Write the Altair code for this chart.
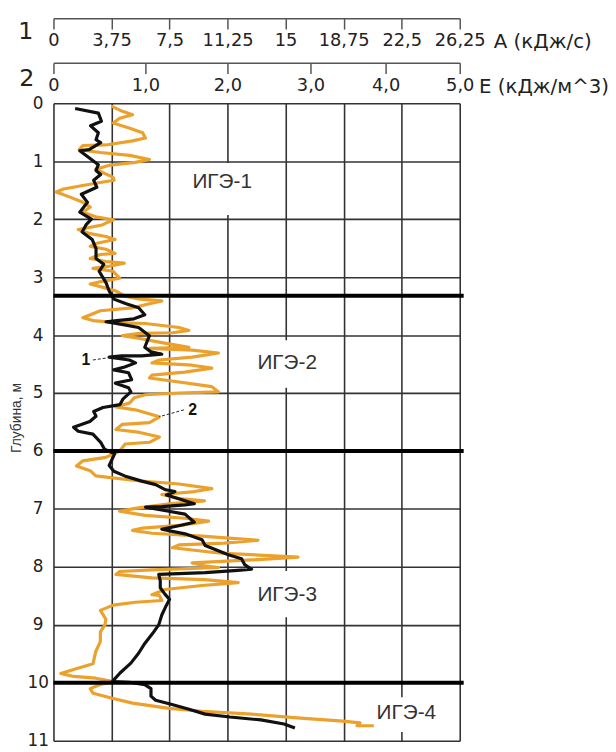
import altair as alt
import pandas as pd

# ---------------- data ----------------
# curve 1 (black): A, kJ/s vs depth, m
black_depth = [0.09, 0.17, 0.31, 0.39, 0.51, 0.63, 0.68, 0.80, 0.82, 0.94,
               1.06, 1.16, 1.23, 1.33, 1.45, 1.57, 1.71, 1.88, 2.00, 2.10,
               2.22, 2.35, 2.51, 2.68, 2.78, 2.90, 3.10, 3.24, 3.38, 3.46,
               3.53, 3.65, 3.72, 3.75, 3.77, 3.82, 3.87, 4.01, 4.21, 4.29,
               4.33, 4.36, 4.36, 4.38, 4.43, 4.48, 4.55, 4.60, 4.65, 4.77,
               4.83, 4.91, 4.98, 5.10, 5.20, 5.25, 5.32, 5.40, 5.49, 5.59,
               5.66, 5.71, 5.85, 5.97, 6.05, 6.25, 6.35, 6.43, 6.52, 6.58,
               6.67, 6.70, 6.76, 6.84, 6.91, 6.93, 6.96, 6.97, 7.04, 7.09,
               7.23, 7.29, 7.35, 7.43, 7.53, 7.63, 7.72, 7.79, 7.86, 7.96,
               8.04, 8.06, 8.10, 8.13, 8.24, 8.36, 8.47, 8.56, 8.66, 8.83,
               9.00, 9.15, 9.32, 9.49, 9.66, 9.83, 9.98, 9.99, 10.03, 10.10,
               10.23, 10.30, 10.37, 10.45, 10.54, 10.59, 10.64, 10.71, 10.78]
black_A = [1.4, 2.9, 3.1, 2.4, 2.9, 2.75, 3.05, 2.3, 1.7, 2.3,
           2.9, 2.75, 3.05, 2.6, 2.8, 1.8, 2.2, 1.7, 2.45, 2.1,
           1.85, 2.5, 2.75, 2.75, 3.25, 2.95, 3.4, 3.6, 3.9, 4.7,
           5.5, 5.9, 5.2, 4.1, 3.4, 4.5, 5.5, 6.2, 5.9, 6.3,
           7.0, 5.7, 4.4, 3.6, 4.9, 5.3, 4.6, 3.9, 4.85, 5.05,
           4.0, 4.85, 5.0, 4.5, 4.3, 3.2, 2.6, 2.75, 2.35, 1.3,
           1.6, 2.55, 3.05, 3.3, 3.95, 3.6, 3.9, 4.6, 5.7, 6.6,
           7.25, 7.85, 7.3, 8.3, 9.1, 8.5, 7.0, 5.95, 7.45, 8.5,
           9.1, 8.1, 7.0, 8.5, 9.6, 9.8, 10.65, 11.3, 12.15, 12.35,
           12.8, 11.9, 9.8, 6.8, 6.9, 6.9, 7.2, 7.5, 7.3, 7.0,
           6.8, 6.4, 5.9, 5.5, 5.0, 4.3, 3.8, 4.9, 5.9, 6.3,
           6.3, 6.6, 7.6, 8.7, 9.8, 11.4, 13.4, 14.9, 15.6]

# curve 2 (orange): E, kJ/m^3 vs depth, m
orange_depth = [0.05, 0.14, 0.20, 0.26, 0.34, 0.43, 0.51, 0.60, 0.65, 0.72,
                0.73, 0.80, 0.85, 0.90, 0.97, 1.02, 1.07, 1.14, 1.28, 1.33,
                1.36, 1.42, 1.48, 1.53, 1.62, 1.71, 1.79, 1.88, 1.96, 2.01,
                2.10, 2.18, 2.25, 2.30, 2.35, 2.42, 2.47, 2.52, 2.59, 2.61,
                2.68, 2.73, 2.76, 2.81, 2.85, 2.90, 3.02, 3.07, 3.12, 3.19,
                3.24, 3.33, 3.38, 3.41, 3.46, 3.53, 3.58, 3.70, 3.75, 3.79,
                3.80, 3.87, 3.92, 3.96, 3.97, 4.01, 4.06, 4.13, 4.21, 4.23,
                4.26, 4.31, 4.38, 4.43, 4.48, 4.52, 4.57, 4.64, 4.69, 4.74,
                4.81, 4.89, 4.98, 5.00, 5.03, 5.08, 5.17, 5.24, 5.29, 5.41,
                5.51, 5.54, 5.63, 5.68, 5.76, 5.85, 5.88, 6.00, 6.11, 6.17,
                6.26, 6.34, 6.43, 6.51, 6.57, 6.65, 6.70, 6.75, 6.82, 6.86,
                6.91, 6.99, 7.04, 7.11, 7.16, 7.21, 7.28, 7.33, 7.37, 7.42,
                7.47, 7.54, 7.59, 7.62, 7.67, 7.76, 7.83, 7.88, 7.93, 7.98,
                8.01, 8.05, 8.08, 8.13, 8.19, 8.22, 8.27, 8.32, 8.39, 8.48,
                8.49, 8.58, 8.61, 8.66, 8.75, 8.90, 9.00, 9.12, 9.29, 9.46,
                9.67, 9.77, 9.84, 9.89, 9.92, 9.98, 10.03, 10.10, 10.18, 10.27,
                10.35, 10.44, 10.49, 10.54, 10.61, 10.66, 10.69, 10.74, 10.74]
orange_E = [0.63, 0.75, 0.86, 0.72, 0.65, 0.83, 0.97, 1.00, 0.86, 0.57,
            0.32, 0.28, 0.51, 0.83, 1.05, 0.89, 0.61, 0.46, 0.65, 0.66,
            0.54, 0.32, 0.11, 0.03, 0.18, 0.32, 0.40, 0.32, 0.46, 0.65,
            0.53, 0.27, 0.40, 0.57, 0.67, 0.46, 0.40, 0.57, 0.67, 0.51,
            0.40, 0.57, 0.77, 0.61, 0.43, 0.65, 0.72, 0.54, 0.40, 0.57,
            0.68, 0.78, 0.94, 1.20, 1.05, 0.86, 0.51, 0.32, 0.43, 0.72,
            1.00, 1.41, 1.53, 1.33, 0.94, 0.75, 0.94, 1.20, 1.53, 1.05,
            1.57, 1.89, 1.57, 1.17, 1.08, 1.57, 1.81, 1.48, 1.08, 1.05,
            1.41, 1.81, 1.89, 1.41, 1.00, 0.88, 0.83, 0.68, 0.89, 1.17,
            1.05, 0.75, 0.68, 0.94, 1.17, 1.05, 0.78, 0.72, 0.57, 0.32,
            0.25, 0.40, 0.46, 0.89, 1.41, 1.81, 1.60, 1.20, 1.41, 1.72,
            1.29, 0.89, 0.72, 1.00, 1.48, 1.77, 1.45, 0.97, 0.86, 1.08,
            1.69, 2.37, 1.96, 1.41, 1.33, 1.89, 2.85, 2.29, 1.57, 1.72,
            1.89, 1.08, 0.72, 0.68, 1.08, 1.72, 2.13, 1.69, 1.24, 1.08,
            1.17, 1.20, 0.89, 0.65, 0.51, 0.57, 0.56, 0.51, 0.51, 0.46,
            0.43, 0.22, 0.08, 0.22, 0.46, 0.65, 0.51, 0.40, 0.43, 0.65,
            0.86, 1.29, 1.69, 2.29, 2.88, 3.43, 3.66, 3.62, 3.96]

# layer boundaries (depth, m)
boundary_depth = [3.32, 6.0, 10.0]

# engineering-geological element labels (with their white label boxes)
ige_labels = ["ИГЭ-1", "ИГЭ-2", "ИГЭ-3", "ИГЭ-4"]
ige_A = [10.9, 15.1, 15.1, 22.8]
ige_depth = [1.36, 4.48, 8.48, 10.52]
box_A1 = [9.0, 13.0, 13.0, 20.7]
box_A2 = [13.3, 17.1, 17.1, 25.0]
box_d1 = [1.03, 4.09, 8.07, 10.25]
box_d2 = [1.93, 4.91, 8.87, 10.85]

# curve number call-outs
curve_label_text = ["1", "2"]
curve_label_A = [2.1, 9.0]
curve_label_depth = [4.43, 5.29]
leader_A1 = [2.55, 8.43]
leader_A2 = [3.83, 6.83]
leader_d1 = [4.43, 5.29]
leader_d2 = [4.38, 5.41]

# axes
A_ticks = [0, 3.75, 7.5, 11.25, 15, 18.75, 22.5, 26.25]
E_ticks = [0, 1, 2, 3, 4, 5]
E_tick_pos = [0, 93, 176, 260, 336, 411]   # as drawn on the original axis 2
depth_ticks = list(range(12))

# ---------------- chart ----------------
W, H = 411, 645
NUM_FONT = "DejaVu Sans"
TXT_FONT = "Liberation Sans"
GRID = "#333333"
ORANGE = "#EBA12B"

black_df = pd.DataFrame({"depth": black_depth, "A": black_A})
black_df["i"] = range(len(black_df))
orange_df = pd.DataFrame({"depth": orange_depth, "E": orange_E})
orange_df["i"] = range(len(orange_df))
bound_df = pd.DataFrame({"depth": boundary_depth})
ige_df = pd.DataFrame({"A": ige_A, "depth": ige_depth, "label": ige_labels})
box_df = pd.DataFrame({"A": box_A1, "A2": box_A2, "depth": box_d1, "depth2": box_d2})
cl_df = pd.DataFrame({"A": curve_label_A, "depth": curve_label_depth, "label": curve_label_text})
lead_df = pd.DataFrame({"A": leader_A1, "A2": leader_A2, "depth": leader_d1, "depth2": leader_d2})

y_enc = alt.Y(
    "depth:Q",
    scale=alt.Scale(domain=[0, 11], reverse=True, nice=False, zero=False),
    axis=alt.Axis(
        values=depth_ticks, format="d", grid=True, gridColor=GRID, gridWidth=1.6,
        domain=False, ticks=False, tickSize=0, labelPadding=16,
        labelAlign="center", labelBaseline="middle",
        labelFont=NUM_FONT, labelFontSize=17, labelColor="#222",
        title="Глубина, м", titleFont=TXT_FONT, titleFontSize=14,
        titleFontWeight="normal", titleColor="#333",
        titleX=-37, titleY=318, titleAlign="center", titleBaseline="middle",
        titleAngle=270,
    ),
)

x_A = alt.X(
    "A:Q",
    scale=alt.Scale(domain=[0, 26.25], nice=False, zero=False),
    axis=alt.Axis(
        orient="bottom", offset=-(H + 86), values=A_ticks, format=".2~f",
        labelExpr="replace(datum.label, '.', ',')",
        tickSize=11, tickWidth=1.5, tickColor="#555",
        domainWidth=1.5, domainColor="#555",
        labelFont=NUM_FONT, labelFontSize=18, labelPadding=3, labelColor="#222",
        labelFlush=False, labelOverlap=False,
        grid=True, gridColor=GRID, gridWidth=1.6,
        title="A (кДж/с)", titleX=445, titleY=24, titleAngle=0,
        titleAlign="left", titleBaseline="middle",
        titleFont=NUM_FONT, titleFontSize=20, titleFontWeight="normal", titleColor="#222",
    ),
)

x_E = alt.X(
    "E:Q",
    scale=alt.Scale(domain=E_ticks, range=E_tick_pos, nice=False, zero=False),
    axis=alt.Axis(
        orient="bottom", offset=-(H + 41), values=E_ticks,
        labelExpr="datum.value == 0 ? '0' : replace(format(datum.value, '.1f'), '.', ',')",
        tickSize=11, tickWidth=1.5, tickColor="#555",
        domainWidth=1.5, domainColor="#555",
        labelFont=NUM_FONT, labelFontSize=18, labelPadding=3, labelColor="#222",
        labelFlush=False, labelOverlap=False, grid=False,
        title="E (кДж/м^3)", titleX=430, titleY=24, titleAngle=0,
        titleAlign="left", titleBaseline="middle",
        titleFont=NUM_FONT, titleFontSize=20, titleFontWeight="normal", titleColor="#222",
    ),
)

orange_line = alt.Chart(orange_df).mark_line(
    color=ORANGE, strokeWidth=3.2, strokeJoin="round"
).encode(x=x_E, y=y_enc, order="i:Q")

label_boxes = alt.Chart(box_df).mark_rect(color="white").encode(
    x=x_A, x2="A2:Q", y=y_enc, y2="depth2:Q"
)

black_line = alt.Chart(black_df).mark_line(
    color="#111", strokeWidth=3.2, strokeJoin="round"
).encode(x=x_A, y=y_enc, order="i:Q")

bounds = alt.Chart(bound_df).mark_rule(color="#000", strokeWidth=4).encode(
    y=y_enc, x=alt.value(0), x2=alt.value(W + 4)
)

ige_text = alt.Chart(ige_df).mark_text(
    font=TXT_FONT, fontSize=21, color="#333"
).encode(x=x_A, y=y_enc, text="label:N")

leaders = alt.Chart(lead_df).mark_rule(
    color="#222", strokeWidth=1, strokeDash=[3, 2]
).encode(x=x_A, x2="A2:Q", y=y_enc, y2="depth2:Q")

curve_labels = alt.Chart(cl_df).mark_text(
    font=TXT_FONT, fontSize=16, fontWeight="bold", color="#111"
).encode(x=x_A, y=y_enc, text="label:N")

axis1_num = alt.Chart(pd.DataFrame({"t": ["1"]})).mark_text(
    font=NUM_FONT, fontSize=24, color="#222"
).encode(text="t:N", x=alt.value(-28), y=alt.value(-72))

axis2_num = alt.Chart(pd.DataFrame({"t": ["2"]})).mark_text(
    font=NUM_FONT, fontSize=24, color="#222"
).encode(text="t:N", x=alt.value(-27), y=alt.value(-24))

inner = alt.layer(label_boxes, black_line, bounds, ige_text, leaders,
                  curve_labels, axis1_num, axis2_num)

chart = (
    alt.layer(orange_line, inner)
    .resolve_scale(x="independent")
    .properties(
        width=W, height=H,
        padding={"left": 46, "top": 92, "right": 150, "bottom": 6},
        autosize=alt.AutoSizeParams(type="none"),
        background="white",
    )
    .configure_view(strokeWidth=0)
)

chart.save("out.html", embed_options={"renderer": "svg", "actions": False})
